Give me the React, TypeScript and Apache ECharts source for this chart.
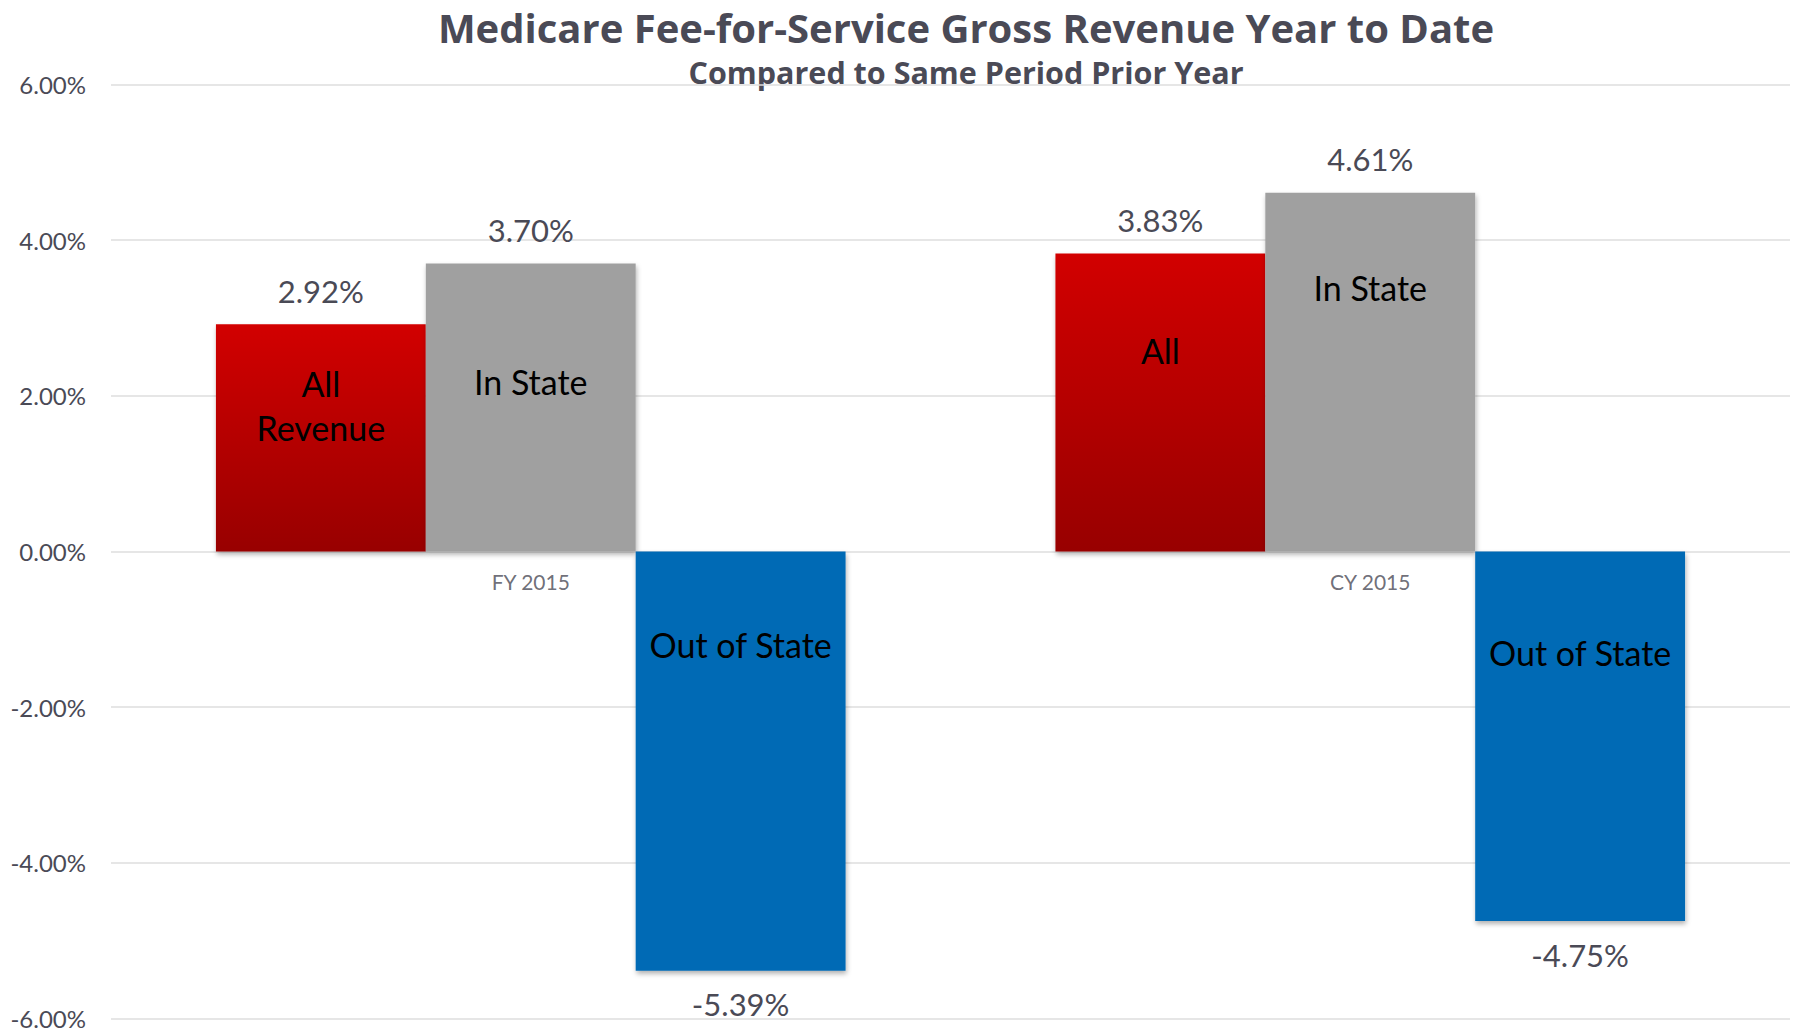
import React, { useEffect, useRef } from "react";
import * as echarts from "echarts";

const categories = ["FY 2015", "CY 2015"];
const allValues = [2.92, 3.83];
const inStateValues = [3.7, 4.61];
const outStateValues = [-5.39, -4.75];
const allNames = ["All\nRevenue", "All"];
const inStateNames = ["In State", "In State"];
const outStateNames = ["Out of State", "Out of State"];
const titleText = "Medicare Fee-for-Service Gross Revenue Year to Date";
const subtitleText = "Compared to Same Period Prior Year";

const FONT = "Lato, 'Open Sans', sans-serif";
const TITLE_FONT = "'Open Sans', Lato, sans-serif";
const TEXT = "#4a4a56";

// label placement (style)
const allInnerDist = [37, 75];
const inInnerDist = [96, 73];
const outInnerDist = [71, 79];

export default function App() {
  const ref = useRef<HTMLDivElement>(null);
  useEffect(() => {
    if (!ref.current) return;
    const chart = echarts.init(ref.current, undefined, { renderer: "svg" });
    const shadow = {
      shadowBlur: 5,
      shadowOffsetX: 1,
      shadowOffsetY: 3,
      shadowColor: "rgba(0,0,0,0.3)",
    };
    const valueLabel = {
      show: true,
      position: "outside",
      distance: 18,
      fontFamily: FONT,
      fontSize: 31,
      color: TEXT,
      formatter: (p: any) => p.value.toFixed(2) + "%",
    };
    const mkInner = (names: string[], vals: number[], dists: number[]) =>
      vals.map((v, i) => ({
        value: v,
        label: {
          show: true,
          position: "insideTop",
          distance: dists[i],
          formatter: names[i],
          fontFamily: FONT,
          fontSize: 34,
          lineHeight: 44,
          color: "#000",
        },
      }));
    const overlay = (name: string, names: string[], vals: number[], dists: number[]) => ({
      name: name + "-label",
      type: "bar",
      xAxisIndex: 1,
      yAxisIndex: 1,
      silent: true,
      barGap: 0,
      barCategoryGap: "25%",
      itemStyle: { color: "transparent" },
      data: mkInner(names, vals, dists),
      z: 5,
    });
    const yBase = {
      type: "value",
      min: -6,
      max: 6,
      interval: 2,
    };
    chart.setOption({
      animation: false,
      backgroundColor: "#fff",
      grid: {
        left: 111,
        right: 3,
        top: 84.6,
        bottom: 13.7,
        containLabel: false,
        outerBoundsMode: "none",
      },
      graphic: [
        {
          type: "text",
          x: 966,
          y: 27,
          style: {
            text: titleText,
            fontFamily: TITLE_FONT,
            fontWeight: "bold",
            fontSize: 40,
            lineHeight: 42,
            fill: TEXT,
            textAlign: "center",
            textVerticalAlign: "middle",
          },
        },
        {
          type: "text",
          x: 966,
          y: 72,
          style: {
            text: subtitleText,
            fontFamily: TITLE_FONT,
            fontWeight: "bold",
            fontSize: 30.5,
            lineHeight: 31,
            fill: TEXT,
            textAlign: "center",
            textVerticalAlign: "middle",
          },
        },
      ],
      xAxis: [
        {
          type: "category",
          data: categories,
          axisLine: { show: false },
          axisTick: { show: false },
          axisLabel: { show: false },
        },
        {
          type: "category",
          data: categories,
          position: "top",
          show: false,
        },
      ],
      yAxis: [
        {
          ...yBase,
          axisLine: { show: false },
          axisTick: { show: false },
          axisLabel: {
            fontFamily: FONT,
            fontSize: 24,
            color: TEXT,
            margin: 25,
            formatter: (v: number) => v.toFixed(2) + "%",
          },
          splitLine: { lineStyle: { color: "#dedede", width: 1.5 } },
        },
        { ...yBase, show: false, splitLine: { show: false } },
      ],
      series: [
        {
          name: "All",
          type: "bar",
          barGap: 0,
          barCategoryGap: "25%",
          data: allValues,
          itemStyle: {
            color: new echarts.graphic.LinearGradient(0, 0, 0, 1, [
              { offset: 0, color: "#d20000" },
              { offset: 1, color: "#980000" },
            ]),
            ...shadow,
          },
          label: valueLabel,
          z: 3,
        },
        {
          name: "In State",
          type: "bar",
          barGap: 0,
          barCategoryGap: "25%",
          data: inStateValues,
          itemStyle: { color: "#a0a0a0", ...shadow },
          label: valueLabel,
          z: 3,
        },
        {
          name: "Out of State",
          type: "bar",
          barGap: 0,
          barCategoryGap: "25%",
          data: outStateValues,
          itemStyle: { color: "#006ab5", ...shadow },
          label: valueLabel,
          z: 3,
        },
        overlay("All", allNames, allValues, allInnerDist),
        overlay("In State", inStateNames, inStateValues, inInnerDist),
        overlay("Out of State", outStateNames, outStateValues, outInnerDist),
        {
          name: "category-labels",
          type: "scatter",
          xAxisIndex: 0,
          yAxisIndex: 0,
          silent: true,
          symbolSize: 0,
          data: categories.map((c) => [c, 0]),
          label: {
            show: true,
            position: "bottom",
            distance: 20,
            formatter: (p: any) => p.name || p.value[0],
            fontFamily: FONT,
            fontSize: 21,
            color: TEXT,
          },
          z: 6,
        },
      ],
    });
    return () => chart.dispose();
  }, []);
  return (
    <div
      ref={ref}
      style={{ position: "fixed", left: 0, top: 0, width: 1793, height: 1032, background: "#fff" }}
    />
  );
}
